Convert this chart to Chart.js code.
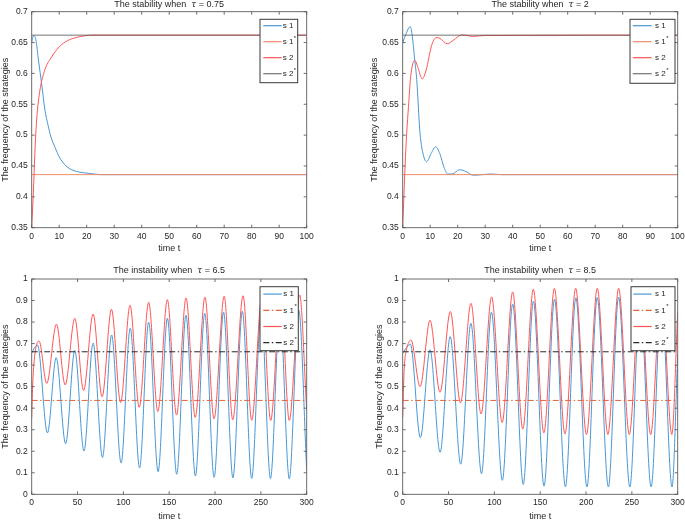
<!DOCTYPE html>
<html>
<head>
<meta charset="utf-8">
<script src="https://cdn.jsdelivr.net/npm/chart.js@4.4.0/dist/chart.umd.min.js"></script>
<style>
  body { margin: 0; background: #fff; }
  #wrap { position: relative; width: 685px; height: 520px; overflow: hidden; }
  canvas { position: absolute; }
</style>
</head>
<body>
<div id="wrap">
  <canvas id="c1" width="340" height="255" style="left:0;top:0"></canvas>
  <canvas id="c2" width="345" height="255" style="left:340px;top:0"></canvas>
  <canvas id="c3" width="340" height="265" style="left:0;top:255px"></canvas>
  <canvas id="c4" width="345" height="265" style="left:340px;top:255px"></canvas>
</div>
<script>
// equilibrium frequencies
const s1Star = 0.436;
const s2Star = 0.662;

// tau = 0.75
const timeA1 = [0, 0.6, 1.5, 2.5, 3.6, 4.8, 6, 7, 8.5, 10, 12.5, 15, 17.5, 21, 25, 100];
const s1A = [0.65, 0.661, 0.655, 0.62, 0.584, 0.541, 0.515, 0.497, 0.48, 0.465, 0.45, 0.443, 0.44, 0.438, 0.436, 0.436];
const timeA2 = [0, 0.6, 1.2, 1.8, 3, 4.8, 7, 10, 13, 17, 22, 100];
const s2A = [0.35, 0.406, 0.476, 0.525, 0.573, 0.606, 0.625, 0.643, 0.653, 0.659, 0.662, 0.662];

// tau = 2
const timeB1 = [0, 1.3, 2.7, 3.5, 4.3, 5.1, 6.3, 7.5, 8.7, 10.3, 12, 13.5, 15, 16.4, 18, 20.6, 23, 25.7, 29, 32, 36, 100];
const s1B = [0.65, 0.665, 0.676, 0.66, 0.625, 0.59, 0.503, 0.468, 0.457, 0.47, 0.481, 0.47, 0.448, 0.437, 0.437, 0.444, 0.441, 0.435, 0.436, 0.437, 0.436, 0.436];
const timeB2 = [0, 0.85, 1.45, 2.1, 2.9, 4.4, 5.5, 7.1, 8.5, 10.5, 12.2, 13.5, 16.2, 18.5, 21.5, 25.7, 30, 100];
const s2B = [0.35, 0.449, 0.503, 0.546, 0.595, 0.621, 0.61, 0.591, 0.605, 0.645, 0.658, 0.657, 0.648, 0.654, 0.6625, 0.66, 0.6615, 0.662];

// tau = 6.5
const timeC1 = [0, 3, 6.3, 17.2, 26.7, 37, 47, 57, 67, 77.2, 87.2, 97.5, 107.5, 117.7, 127.6, 137.9, 148, 158.2, 168.3, 178.6, 188.8, 199, 209.3, 219.5, 229.8, 240, 250.3, 260.5, 270.8, 281, 291.3, 300];
const s1C = [0.655, 0.68, 0.694, 0.285, 0.635, 0.235, 0.668, 0.201, 0.702, 0.171, 0.74, 0.145, 0.772, 0.122, 0.8, 0.105, 0.818, 0.093, 0.831, 0.085, 0.84, 0.079, 0.846, 0.076, 0.85, 0.074, 0.852, 0.073, 0.854, 0.072, 0.856, 0.11];
const timeC2 = [0, 1, 2.5, 5, 8, 16.4, 27, 36.5, 47, 56.6, 67, 76.8, 87, 97, 107.3, 117.3, 127.6, 137.6, 148, 158, 168.4, 178.4, 189, 198.9, 210, 219.3, 230.6, 240, 251.2, 260.7, 271.7, 281, 292.3, 300];
const s2C = [0.355, 0.5, 0.61, 0.69, 0.712, 0.515, 0.79, 0.508, 0.817, 0.482, 0.837, 0.453, 0.86, 0.426, 0.878, 0.404, 0.892, 0.384, 0.904, 0.368, 0.912, 0.357, 0.916, 0.35, 0.92, 0.346, 0.922, 0.344, 0.924, 0.343, 0.925, 0.343, 0.926, 0.39];

// tau = 8.5
const timeD1 = [0, 3, 8.4, 19.3, 29.8, 40.8, 51.8, 63.3, 74.4, 86, 96.8, 108.7, 120, 131.5, 142.6, 154.2, 165.6, 177.5, 188.9, 201, 212.2, 224.4, 235.5, 247.8, 259, 271, 282.3, 293.8, 300];
const s1D = [0.655, 0.675, 0.697, 0.263, 0.672, 0.195, 0.733, 0.14, 0.794, 0.096, 0.846, 0.065, 0.884, 0.046, 0.897, 0.038, 0.906, 0.035, 0.913, 0.034, 0.914, 0.034, 0.916, 0.034, 0.917, 0.034, 0.917, 0.034, 0.647];
const timeD2 = [0, 1.5, 4, 6.5, 9, 19, 29.8, 40.7, 52, 63, 74.5, 85.5, 97, 108.5, 120, 131, 142.5, 154, 165.5, 177, 188.7, 200.5, 212.3, 223.8, 235.6, 247.2, 259, 270.5, 282.2, 293.6, 300];
const s2D = [0.355, 0.57, 0.67, 0.705, 0.717, 0.5, 0.808, 0.474, 0.849, 0.425, 0.887, 0.373, 0.917, 0.333, 0.94, 0.303, 0.952, 0.285, 0.956, 0.28, 0.957, 0.278, 0.957, 0.278, 0.957, 0.278, 0.957, 0.278, 0.957, 0.278, 0.848];

const FONT = '"Liberation Sans", Arial, Helvetica, sans-serif';
const TEXT = '#262626';
const BLUE = 'rgb(72,152,212)';
const RED = 'rgb(255,85,85)';

const pts = (t, v) => t.map((x, i) => ({ x: x, y: v[i] }));

// box with inward ticks, legend inside the axes, title with italic tau
const framePlugin = {
  id: 'frame',
  afterDatasetsDraw(chart, args, opts) {
    const { ctx, chartArea: a } = chart;
    const xs = chart.scales.x, ys = chart.scales.y;
    ctx.save();
    ctx.strokeStyle = '#5c5c5c';
    ctx.lineWidth = 0.9;
    ctx.beginPath();
    xs.ticks.forEach(t => {
      const p = xs.getPixelForValue(t.value);
      ctx.moveTo(p, a.bottom); ctx.lineTo(p, a.bottom - 3);
      ctx.moveTo(p, a.top); ctx.lineTo(p, a.top + 3);
    });
    ys.ticks.forEach(t => {
      const p = ys.getPixelForValue(t.value);
      ctx.moveTo(a.left, p); ctx.lineTo(a.left + 3, p);
      ctx.moveTo(a.right, p); ctx.lineTo(a.right - 3, p);
    });
    ctx.stroke();
    ctx.strokeRect(a.left, a.top, a.right - a.left, a.bottom - a.top);

    // legend
    const L = opts.legend;
    const bx = a.right - L.gapRight - L.width, by = a.top + L.gapTop;
    ctx.fillStyle = '#fff';
    ctx.fillRect(bx, by, L.width, L.height);
    ctx.strokeStyle = '#3a3a3a';
    ctx.lineWidth = 1;
    ctx.strokeRect(bx, by, L.width, L.height);
    ctx.textBaseline = 'middle';
    ctx.textAlign = 'left';
    chart.data.datasets.forEach((ds, i) => {
      const yy = by + L.first + i * L.step;
      ctx.strokeStyle = ds.borderColor;
      ctx.lineWidth = 1.2;
      ctx.setLineDash(ds.borderDash || []);
      ctx.beginPath();
      ctx.moveTo(bx + L.lineStart, yy);
      ctx.lineTo(bx + L.lineStart + L.lineLen, yy);
      ctx.stroke();
      ctx.setLineDash([]);
      const star = ds.label.endsWith('*');
      const txt = star ? ds.label.slice(0, -1) : ds.label;
      ctx.fillStyle = TEXT;
      ctx.font = '8px ' + FONT;
      ctx.fillText(txt, bx + L.textStart, yy);
      if (star) {
        const w = ctx.measureText(txt).width;
        ctx.font = '6px ' + FONT;
        ctx.fillText('*', bx + L.textStart + w + 0.5, yy - 3.5);
      }
    });

    // title
    const parts = opts.title;
    const fonts = parts.map(p => (p.italic ? 'italic ' : '') + '9px ' + (p.italic ? '"DejaVu Serif", serif' : FONT));
    let total = 0;
    parts.forEach((p, i) => { ctx.font = fonts[i]; total += ctx.measureText(p.text).width; });
    let x = (a.left + a.right) / 2 - total / 2;
    ctx.fillStyle = TEXT;
    ctx.textBaseline = 'middle';
    parts.forEach((p, i) => {
      ctx.font = fonts[i];
      ctx.fillText(p.text, x, opts.titleY);
      x += ctx.measureText(p.text).width;
    });
    ctx.restore();
  }
};

function makePanel(id, cfg) {
  const ctx = document.getElementById(id).getContext('2d');
  const dash = cfg.dashed ? [6, 2.5, 1.5, 2.5] : [];
  new Chart(ctx, {
    type: 'line',
    data: {
      datasets: [
        { label: 's 1', data: pts(cfg.t1, cfg.s1), borderColor: BLUE, order: 4 },
        { label: 's 1*', data: [{ x: 0, y: s1Star }, { x: cfg.xMax, y: s1Star }], borderColor: cfg.star1Color, borderDash: dash, order: 3 },
        { label: 's 2', data: pts(cfg.t2, cfg.s2), borderColor: RED, order: 2 },
        { label: 's 2*', data: [{ x: 0, y: s2Star }, { x: cfg.xMax, y: s2Star }], borderColor: cfg.star2Color, borderDash: dash, order: 1 }
      ]
    },
    options: {
      responsive: false,
      animation: false,
      layout: { padding: { left: cfg.padL, right: cfg.padR, top: cfg.padT, bottom: 0 } },
      elements: {
        point: { radius: 0 },
        line: { borderWidth: 1, cubicInterpolationMode: 'monotone' }
      },
      plugins: {
        legend: { display: false },
        tooltip: { enabled: false },
        frame: { legend: cfg.legend, title: cfg.title, titleY: cfg.titleY }
      },
      scales: {
        x: {
          type: 'linear', min: 0, max: cfg.xMax,
          grid: { display: false, drawTicks: false },
          border: { display: false },
          ticks: { stepSize: cfg.xStep, autoSkip: false, maxRotation: 0, padding: 3.5, color: TEXT, font: { family: FONT, size: 8.5 } },
          title: { display: true, text: 'time t', color: TEXT, font: { family: FONT, size: 9 }, padding: { top: 0, bottom: cfg.xTitlePad } },
          afterFit(s) { s.height = cfg.xH; s.paddingLeft = 0; s.paddingRight = 0; }
        },
        y: {
          type: 'linear', min: cfg.yMin, max: cfg.yMax,
          grid: { display: false, drawTicks: false },
          border: { display: false },
          ticks: { stepSize: cfg.yStep, autoSkip: false, padding: 4, color: TEXT, font: { family: FONT, size: 8.5 },
            callback: v => String(+v.toFixed(2)) },
          title: { display: true, text: 'The frequency of the strategies', color: TEXT, font: { family: FONT, size: 9 }, padding: { top: 0, bottom: 0 } },
          afterFit(s) { s.width = cfg.yW; s.paddingTop = 0; s.paddingBottom = 0; }
        }
      }
    },
    plugins: [framePlugin]
  });
}

const topLegendL = { gapRight: 9, gapTop: 7.6, width: 37.7, height: 63.4, first: 6.4, step: 16, lineStart: 3.3, lineLen: 18.4, textStart: 22.7 };
const topLegendR = { gapRight: 2.7, gapTop: 7.6, width: 45, height: 64, first: 6.4, step: 16, lineStart: 2.7, lineLen: 19, textStart: 25 };
const botLegendL = { gapRight: 8.4, gapTop: 7.7, width: 38.3, height: 64, first: 7.4, step: 16.2, lineStart: 3.3, lineLen: 18.4, textStart: 23.3 };
const botLegendR = { gapRight: 2.7, gapTop: 7.7, width: 44, height: 64, first: 7.4, step: 16.2, lineStart: 2.3, lineLen: 18.4, textStart: 24 };

const titleParts = (word, tau) => [
  { text: 'The ' + word + ' when  ' }, { text: 'τ', italic: true }, { text: ' = ' + tau }
];

const stableStyle = { star1Color: 'rgb(238,140,105)', star2Color: 'rgba(80,80,80,0.8)', dashed: false,
  xMax: 100, xStep: 10, yMin: 0.35, yMax: 0.7, yStep: 0.05, padT: 11.7, xH: 27.3, xTitlePad: 1.1, titleY: 4.3 };
const unstableStyle = { star1Color: 'rgb(226,100,55)', star2Color: 'rgb(40,40,40)', dashed: true,
  xMax: 300, xStep: 50, yMin: 0, yMax: 1, yStep: 0.1, padT: 24, xH: 25.7, xTitlePad: -2.1, titleY: 15.7 };

makePanel('c1', Object.assign({}, stableStyle, { t1: timeA1, s1: s1A, t2: timeA2, s2: s2A,
  padL: 0, yW: 31.7, padR: 33.3, legend: topLegendL, title: titleParts('stability', '0.75') }));
makePanel('c2', Object.assign({}, stableStyle, { t1: timeB1, s1: s1B, t2: timeB2, s2: s2B,
  padL: 29.6, yW: 33.1, padR: 7.3, legend: topLegendR, title: titleParts('stability', '2') }));
makePanel('c3', Object.assign({}, unstableStyle, { t1: timeC1, s1: s1C, t2: timeC2, s2: s2C,
  padL: 0, yW: 31.7, padR: 33.3, legend: botLegendL, title: titleParts('instability', '6.5') }));
makePanel('c4', Object.assign({}, unstableStyle, { t1: timeD1, s1: s1D, t2: timeD2, s2: s2D,
  padL: 33.9, yW: 28.8, padR: 7.3, legend: botLegendR, title: titleParts('instability', '8.5') }));
</script>
</body>
</html>
